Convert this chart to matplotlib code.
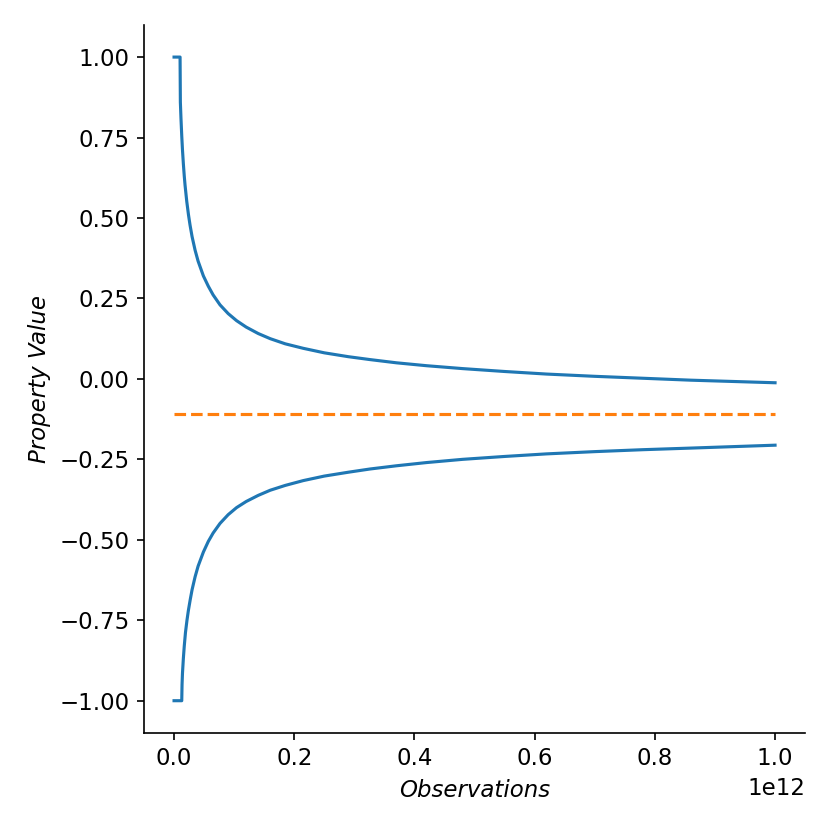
import numpy as np
import matplotlib
matplotlib.use("Agg")
import matplotlib.pyplot as plt

# values (x in units of 1e12)
upper_x = [0.0, 0.01, 0.0105, 0.0115, 0.0128, 0.014, 0.0155, 0.017, 0.0183, 0.0211,
           0.024, 0.0266, 0.030, 0.035, 0.040, 0.0488, 0.057, 0.065, 0.0765, 0.09,
           0.104, 0.12, 0.14, 0.160, 0.185, 0.215, 0.25, 0.29, 0.326, 0.37,
           0.42, 0.48, 0.55, 0.62, 0.7, 0.78, 0.86, 0.93, 1.0]
upper_y = [1.0, 1.0, 0.86, 0.81, 0.755, 0.712, 0.668, 0.630, 0.602, 0.552,
           0.510, 0.478, 0.442, 0.400, 0.366, 0.320, 0.288, 0.261, 0.230, 0.203,
           0.181, 0.161, 0.141, 0.125, 0.109, 0.095, 0.081, 0.069, 0.060, 0.050,
           0.041, 0.032, 0.023, 0.015, 0.008, 0.002, -0.004, -0.008, -0.012]

lower_x = [0.0, 0.0128, 0.0133, 0.014, 0.0155, 0.017, 0.019, 0.0215, 0.0238, 0.027,
           0.030, 0.035, 0.040, 0.0488, 0.057, 0.065, 0.0765, 0.09, 0.104, 0.12,
           0.14, 0.16, 0.185, 0.215, 0.25, 0.29, 0.326, 0.37, 0.42, 0.48,
           0.55, 0.62, 0.7, 0.78, 0.86, 0.93, 1.0]
lower_y = [-1.0, -1.0, -0.95, -0.915, -0.868, -0.830, -0.788, -0.750, -0.720, -0.685,
           -0.655, -0.615, -0.582, -0.538, -0.505, -0.479, -0.449, -0.422, -0.400, -0.381,
           -0.362, -0.346, -0.331, -0.316, -0.302, -0.290, -0.280, -0.270, -0.260, -0.250,
           -0.241, -0.233, -0.226, -0.220, -0.215, -0.2105, -0.206]

mean_x = [0.0, 1.0]
mean_y = [-0.109, -0.109]

scale = 1e12

plt.rcParams["font.size"] = 11

fig = plt.figure(figsize=(830 / 150, 830 / 150), dpi=150)
ax = fig.add_axes([0.1735, 0.117, 0.7965, 0.853])

ax.plot(np.array(upper_x) * scale, upper_y, color="#1f77b4", lw=1.5)
ax.plot(np.array(lower_x) * scale, lower_y, color="#1f77b4", lw=1.5)
ax.plot(np.array(mean_x) * scale, mean_y, color="#ff7f0e", lw=1.5, ls="--")

ax.set_yticks([1.0, 0.75, 0.5, 0.25, 0.0, -0.25, -0.5, -0.75, -1.0])
ax.set_xlabel("Observations", fontstyle="italic")
ax.set_ylabel("Property Value", fontstyle="italic")
ax.spines["top"].set_visible(False)
ax.spines["right"].set_visible(False)

fig.savefig("out.png", dpi=150)
